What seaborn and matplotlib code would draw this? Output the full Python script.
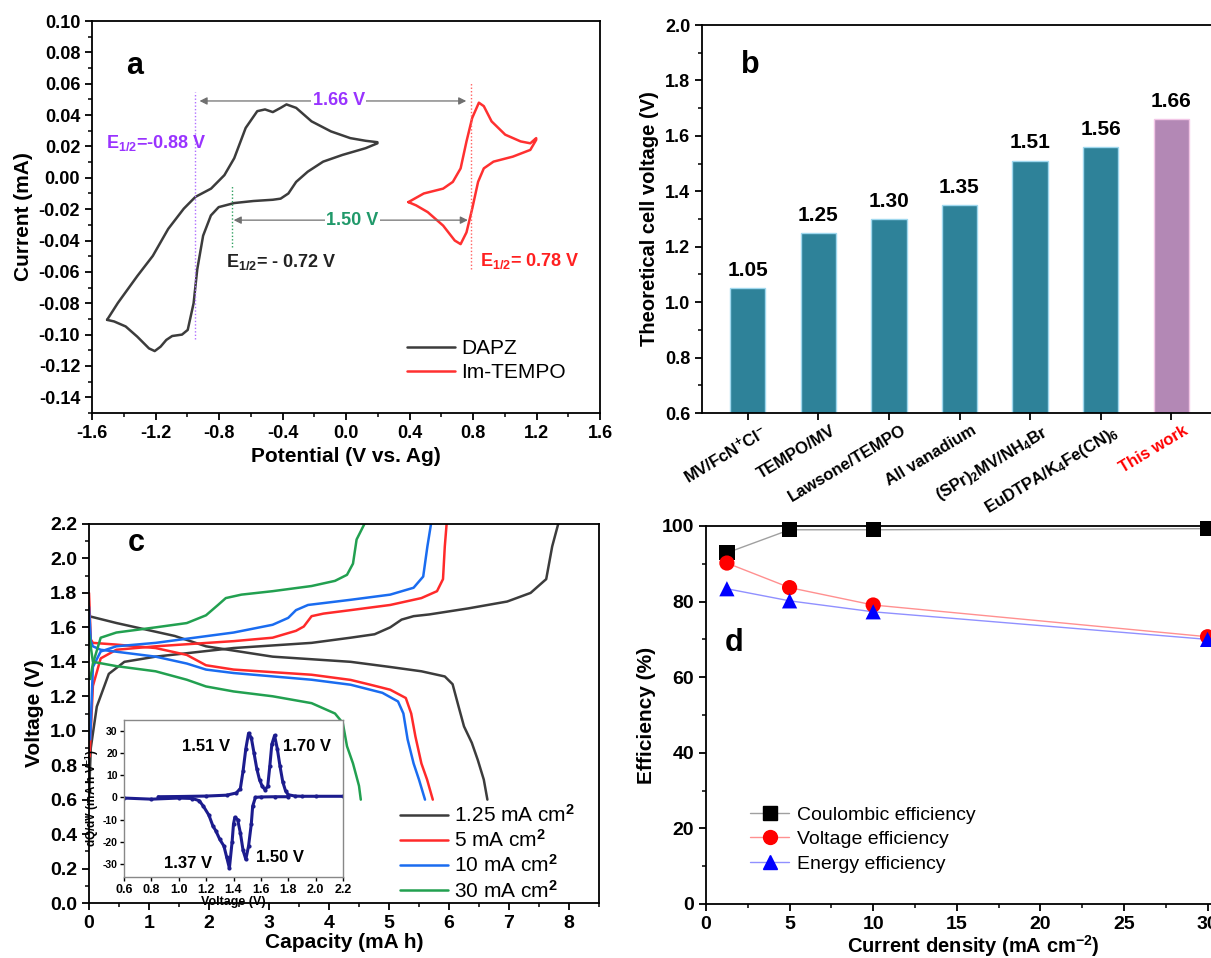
import numpy as np
import pandas as pd
import matplotlib
matplotlib.use('Agg')
import matplotlib.pyplot as plt
import matplotlib.ticker as mticker
import matplotlib.transforms as mtransforms
from matplotlib.lines import Line2D
import seaborn as sns

# ---------------- panel a : cyclic voltammograms ----------------
dapz_v = [-1.505, -1.437, -1.315, -1.217, -1.12, -1.022, -0.949, -0.85, -0.766, -0.704,
          -0.632, -0.559, -0.51, -0.461, -0.412, -0.375, -0.314, -0.217, -0.095, 0.027,
          0.124, 0.198, 0.198, 0.124, -0.022, -0.144, -0.241, -0.314, -0.363, -0.412,
          -0.461, -0.583, -0.704, -0.802, -0.851, -0.9, -0.937, -0.96, -0.997, -1.033,
          -1.095, -1.132, -1.168, -1.205, -1.241, -1.315, -1.388, -1.461, -1.505]
dapz_i = [-0.0906, -0.0798, -0.0627, -0.0498, -0.0326, -0.0197, -0.0122, -0.0069, 0.0017, 0.0125,
          0.0318, 0.0425, 0.0436, 0.0419, 0.0446, 0.0468, 0.0446, 0.036, 0.0296, 0.0253,
          0.0236, 0.0227, 0.022, 0.0189, 0.0146, 0.0103, 0.0039, -0.0026, -0.010, -0.0133,
          -0.014, -0.0148, -0.0161, -0.0187, -0.024, -0.0369, -0.0584, -0.080, -0.097, -0.100,
          -0.1009, -0.1034, -0.1077, -0.1105, -0.1088, -0.1013, -0.0948, -0.0916, -0.0906]
tempo_v = [0.393, 0.49, 0.612, 0.673, 0.722, 0.759, 0.795, 0.837, 0.868, 0.917,
           1.003, 1.1, 1.161, 1.198, 1.198, 1.161, 1.051, 0.929, 0.868, 0.832,
           0.795, 0.759, 0.722, 0.685, 0.612, 0.515, 0.442, 0.393]
tempo_i = [-0.0155, -0.010, -0.0069, -0.0026, 0.006, 0.0232, 0.0382, 0.0479, 0.0457, 0.036,
           0.0275, 0.0232, 0.022, 0.0253, 0.0242, 0.0178, 0.0135, 0.0103, 0.006, -0.0026,
           -0.0197, -0.0348, -0.0423, -0.040, -0.0305, -0.0219, -0.0176, -0.0155]

# ---------------- panel b : theoretical cell voltages ----------------
couples = ['MV/FcN$^{+}$Cl$^{-}$', 'TEMPO/MV', 'Lawsone/TEMPO', 'All vanadium',
           '(SPr)$_{2}$MV/NH$_{4}$Br', 'EuDTPA/K$_{4}$Fe(CN)$_{6}$', 'This work']
cell_v = [1.05, 1.25, 1.30, 1.35, 1.51, 1.56, 1.66]

# ---------------- panel c : charge / discharge curves ----------------
c1_chg_q = [0.0, 0.03, 0.13, 0.33, 0.59, 1.11, 2.41, 3.71, 4.36, 4.76, 5.02, 5.21, 5.41, 5.67, 6.32, 6.97, 7.36, 7.62, 7.72, 7.82]
c1_chg_v = [0.62, 0.9, 1.14, 1.33, 1.40, 1.43, 1.48, 1.51, 1.54, 1.56, 1.60, 1.645, 1.665, 1.675, 1.71, 1.75, 1.80, 1.88, 2.07, 2.2]
c1_dis_q = [0.0, 0.46, 1.43, 1.95, 3.06, 4.36, 5.02, 5.54, 5.93, 6.06, 6.16, 6.25, 6.38, 6.48, 6.58, 6.64]
c1_dis_v = [1.665, 1.625, 1.55, 1.49, 1.43, 1.40, 1.37, 1.345, 1.315, 1.27, 1.14, 1.025, 0.93, 0.83, 0.716, 0.60]

c5_chg_q = [0.01, 0.065, 0.195, 0.456, 1.11, 2.41, 3.06, 3.45, 3.58, 3.71, 3.91, 4.36, 5.02, 5.54, 5.80, 5.90, 5.93, 5.96]
c5_chg_v = [0.85, 1.26, 1.42, 1.47, 1.49, 1.52, 1.54, 1.58, 1.605, 1.665, 1.68, 1.70, 1.73, 1.77, 1.81, 1.88, 2.07, 2.2]
c5_dis_q = [0.0, 0.03, 0.065, 0.456, 1.11, 1.63, 1.95, 2.41, 3.71, 4.36, 4.69, 5.02, 5.28, 5.37, 5.44, 5.54, 5.635, 5.73]
c5_dis_v = [1.80, 1.53, 1.51, 1.50, 1.48, 1.44, 1.38, 1.355, 1.325, 1.295, 1.267, 1.238, 1.19, 1.10, 0.967, 0.81, 0.716, 0.60]

c10_chg_q = [0.02, 0.065, 0.195, 0.456, 1.11, 2.41, 3.06, 3.32, 3.45, 3.65, 4.36, 5.02, 5.41, 5.57, 5.64, 5.70]
c10_chg_v = [0.95, 1.37, 1.46, 1.49, 1.51, 1.57, 1.615, 1.655, 1.70, 1.73, 1.76, 1.79, 1.83, 1.895, 2.07, 2.2]
c10_dis_q = [0.0, 0.03, 0.065, 0.195, 1.11, 1.63, 1.95, 2.41, 3.71, 4.36, 4.89, 5.15, 5.24, 5.31, 5.41, 5.50, 5.60]
c10_dis_v = [1.72, 1.52, 1.49, 1.47, 1.43, 1.39, 1.355, 1.335, 1.296, 1.267, 1.22, 1.17, 1.10, 0.95, 0.81, 0.716, 0.60]

c30_chg_q = [0.02, 0.065, 0.195, 0.456, 1.11, 1.63, 1.95, 2.15, 2.28, 2.54, 3.06, 3.71, 4.10, 4.30, 4.40, 4.46, 4.59]
c30_chg_v = [1.30, 1.39, 1.54, 1.57, 1.60, 1.625, 1.67, 1.73, 1.77, 1.79, 1.81, 1.84, 1.87, 1.905, 1.97, 2.11, 2.2]
c30_dis_q = [0.0, 0.065, 0.456, 1.11, 1.63, 1.95, 2.41, 3.06, 3.71, 4.10, 4.23, 4.30, 4.40, 4.50, 4.53]
c30_dis_v = [1.56, 1.40, 1.375, 1.345, 1.296, 1.257, 1.228, 1.20, 1.16, 1.10, 1.045, 0.91, 0.81, 0.68, 0.60]

rate_labels = ['1.25 mA cm$^{2}$', '5 mA cm$^{2}$', '10 mA cm$^{2}$', '30 mA cm$^{2}$']

# inset dQ/dV
dq_chg_v = [0.85, 1.0, 1.2, 1.35, 1.42, 1.45, 1.47, 1.49, 1.51, 1.53, 1.55, 1.57, 1.59, 1.61, 1.63,
            1.65, 1.665, 1.68, 1.70, 1.72, 1.74, 1.76, 1.78, 1.80, 1.85, 1.9, 2.0, 2.2]
dq_chg = [0.3, 0.4, 0.6, 1.0, 2.0, 4, 12, 22, 29, 27, 20, 13, 8, 5, 3.5,
          5, 14, 24, 28, 22, 14, 7, 3, 1.2, 0.6, 0.5, 0.5, 0.5]
dq_dis_v = [1.8, 1.7, 1.6, 1.56, 1.54, 1.53, 1.51, 1.49, 1.47, 1.45, 1.43, 1.41, 1.40, 1.39, 1.37,
            1.35, 1.33, 1.30, 1.27, 1.25, 1.22, 1.18, 1.15, 1.1, 1.0, 0.8, 0.6]
dq_dis = [0.3, 0.3, 0.2, 0, -4, -12, -22, -28, -24, -16, -10, -9, -12, -20, -32,
          -27, -22, -19, -15, -13, -8, -4, -1.5, -0.5, -0.3, -0.8, -0.3]

# ---------------- panel d : efficiencies ----------------
cur_density = [1.25, 5, 10, 30]
coulombic = [92.9, 99.0, 99.0, 99.3]
voltage_eff = [90.2, 83.7, 79.1, 70.7]
energy_eff = [83.4, 80.2, 77.3, 70.0]

# ---------------- style ----------------
sns.set_theme(style='ticks')
plt.rcParams.update({
    'font.family': ['Liberation Sans', 'DejaVu Sans'],
    'font.weight': 'bold',
    'axes.labelweight': 'bold',
    'axes.edgecolor': 'black',
    'axes.linewidth': 1.3,
    'axes.labelcolor': 'black',
    'axes.unicode_minus': False,
    'text.color': 'black',
    'xtick.color': 'black', 'ytick.color': 'black',
    'xtick.direction': 'out', 'ytick.direction': 'out',
    'xtick.major.size': 5, 'ytick.major.size': 5,
    'xtick.minor.size': 3, 'ytick.minor.size': 3,
    'xtick.major.width': 1.3, 'ytick.major.width': 1.3,
    'xtick.minor.width': 1.1, 'ytick.minor.width': 1.1,
    'mathtext.fontset': 'custom',
    'mathtext.rm': 'Liberation Sans',
    'mathtext.bf': 'Liberation Sans:bold',
    'mathtext.default': 'bf',
    'legend.frameon': False,
})


def style_ax(ax, xmaj, xmin, ymaj, ymin, fs):
    ax.xaxis.set_major_locator(mticker.MultipleLocator(xmaj))
    ax.xaxis.set_minor_locator(mticker.MultipleLocator(xmin))
    ax.yaxis.set_major_locator(mticker.MultipleLocator(ymaj))
    ax.yaxis.set_minor_locator(mticker.MultipleLocator(ymin))
    ax.tick_params(labelsize=fs, which='both')
    for s in ax.spines.values():
        s.set_visible(True)
        s.set_color('black')
        s.set_linewidth(1.3)


W, H = 1211, 958
fig = plt.figure(figsize=(W / 100, H / 100), dpi=100)


def px_axes(l, r, t, b):
    return fig.add_axes([l / W, 1 - b / H, (r - l) / W, (b - t) / H])


# ================= panel a =================
axa = px_axes(92, 600, 21, 413)
sns.lineplot(x=dapz_v, y=dapz_i, sort=False, estimator=None, color='#3c3c3c', lw=1.8, ax=axa)
sns.lineplot(x=tempo_v, y=tempo_i, sort=False, estimator=None, color='#ff3030', lw=1.8, ax=axa)
axa.set_xlim(-1.6, 1.6)
axa.set_ylim(-0.15, 0.10)
style_ax(axa, 0.4, 0.2, 0.02, 0.01, 13)
axa.xaxis.set_major_formatter(mticker.FormatStrFormatter('%.1f'))
axa.yaxis.set_major_formatter(mticker.FormatStrFormatter('%.2f'))
axa.set_xlabel('Potential (V vs. Ag)', fontsize=15)
axa.set_ylabel('Current (mA)', fontsize=15)

axa.plot([-0.95, -0.95], [-0.103, 0.055], ls=(0, (1, 1.5)), color='#b070ff', lw=1)
axa.plot([0.785, 0.785], [-0.058, 0.061], ls=(0, (1, 1.5)), color='#ff6060', lw=1)
axa.plot([-0.72, -0.72], [-0.044, -0.005], ls=(0, (1, 1.5)), color='#30a060', lw=1)
axa.annotate('', xy=(-0.94, 0.049), xytext=(0.775, 0.049),
             arrowprops=dict(arrowstyle='<|-|>', color='#707070', lw=0.9, mutation_scale=11))
axa.annotate('', xy=(-0.725, -0.027), xytext=(0.785, -0.027),
             arrowprops=dict(arrowstyle='<|-|>', color='#707070', lw=0.9, mutation_scale=11))
axa.text(-0.045, 0.049, '1.66 V', color='#9933ff', fontsize=13, ha='center', va='center',
         bbox=dict(fc='white', ec='none', pad=1))
axa.text(0.04, -0.027, '1.50 V', color='#20996a', fontsize=13, ha='center', va='center',
         bbox=dict(fc='white', ec='none', pad=1))
axa.text(-1.51, 0.022, 'E$_{1/2}$=-0.88 V', color='#9933ff', fontsize=13, va='center')
axa.text(-0.755, -0.054, 'E$_{1/2}$= - 0.72 V', color='#222222', fontsize=13, va='center')
axa.text(0.845, -0.053, 'E$_{1/2}$= 0.78 V', color='#ff2020', fontsize=13, va='center')
axa.text(-1.33, 0.0715, 'a', fontsize=22, ha='center', va='center')
axa.legend(handles=[Line2D([], [], color='#3c3c3c', lw=1.8), Line2D([], [], color='#ff3030', lw=1.8)],
           labels=['DAPZ', 'Im-TEMPO'], loc='lower right', bbox_to_anchor=(0.97, 0.03),
           handlelength=2.3, handletextpad=0.3, labelspacing=0.25,
           prop={'weight': 'normal', 'size': 15})

# ================= panel b =================
axb = px_axes(702, 1217, 25, 413)
df_b = pd.DataFrame({'couple': couples, 'v': cell_v})
bar_cols = ['#2e8299'] * 6 + ['#b388b5']
sns.barplot(data=df_b, x='couple', y='v', hue='couple', palette=bar_cols, legend=False,
            width=0.5, saturation=1, ax=axb)
edge_cols = ['#9fd8ee'] * 6 + ['#f2c6e6']
for p, ec in zip(axb.patches, edge_cols):
    p.set_edgecolor(ec)
    p.set_linewidth(1)
axb.set_xlim(-0.65, 6.65)
axb.set_ylim(0.6, 2.0)
style_ax(axb, 1, 1, 0.2, 0.1, 13)
axb.xaxis.set_major_locator(mticker.FixedLocator(range(7)))
axb.xaxis.set_minor_locator(mticker.NullLocator())
axb.yaxis.set_major_formatter(mticker.FormatStrFormatter('%.1f'))
axb.set_xticks(range(7))
axb.set_xticklabels(couples, rotation=31, ha='right', va='top', rotation_mode='anchor', fontsize=12)
shift = mtransforms.ScaledTranslation(0.12, 0.02, fig.dpi_scale_trans)
for lab in axb.get_xticklabels():
    lab.set_transform(lab.get_transform() + shift)
axb.get_xticklabels()[-1].set_color('red')
axb.set_xlabel('')
axb.set_ylabel('Theoretical cell voltage (V)', fontsize=14.5)
for i, v in enumerate(cell_v):
    axb.annotate(f'{v:.2f}', (i, v), xytext=(0, 6), textcoords='offset points',
                 ha='center', va='bottom', fontsize=15)
axb.text(0.03, 1.856, 'b', fontsize=22, ha='center', va='center')

# ================= panel c =================
axc = px_axes(89, 599, 524, 903)
c_cols = ['#3c3c3c', '#ff2a2a', '#1a6cf0', '#22a050']
curves = [(c1_chg_q, c1_chg_v, c1_dis_q, c1_dis_v), (c5_chg_q, c5_chg_v, c5_dis_q, c5_dis_v),
          (c10_chg_q, c10_chg_v, c10_dis_q, c10_dis_v), (c30_chg_q, c30_chg_v, c30_dis_q, c30_dis_v)]
for (cq, cv, dq, dv), col in zip(curves, c_cols):
    sns.lineplot(x=cq, y=cv, sort=False, estimator=None, color=col, lw=1.8, ax=axc)
    sns.lineplot(x=dq, y=dv, sort=False, estimator=None, color=col, lw=1.8, ax=axc)
axc.set_xlim(0, 8.5)
axc.set_ylim(0, 2.2)
style_ax(axc, 1, 0.5, 0.2, 0.1, 14)
axc.yaxis.set_major_formatter(mticker.FormatStrFormatter('%.1f'))
axc.set_xlabel('Capacity (mA h)', fontsize=15, labelpad=1)
axc.set_ylabel('Voltage (V)', fontsize=15)
axc.text(0.78, 2.09, 'c', fontsize=22, ha='center', va='center')
axc.legend(handles=[Line2D([], [], color=c, lw=1.8) for c in c_cols], labels=rate_labels,
           loc='lower right', bbox_to_anchor=(0.99, -0.045), handlelength=2.3, handletextpad=0.3,
           labelspacing=0.15, prop={'weight': 'normal', 'size': 15})

axi = px_axes(124, 343, 720, 877)
sns.lineplot(x=dq_chg_v, y=dq_chg, sort=False, estimator=None, color='#1c1c8e', lw=2.2,
             marker='o', markersize=3, markeredgewidth=0, ax=axi)
sns.lineplot(x=dq_dis_v, y=dq_dis, sort=False, estimator=None, color='#1c1c8e', lw=2.2,
             marker='o', markersize=3, markeredgewidth=0, ax=axi)
axi.set_xlim(0.6, 2.2)
axi.set_ylim(-36, 35)
style_ax(axi, 0.2, 0.1, 10, 5, 9)
axi.xaxis.set_major_formatter(mticker.FormatStrFormatter('%.1f'))
axi.xaxis.set_minor_locator(mticker.NullLocator())
axi.yaxis.set_minor_locator(mticker.NullLocator())
axi.tick_params(length=3, width=1, pad=2)
axi.tick_params(axis='y', labelsize=7.5, pad=1.5)
for s in axi.spines.values():
    s.set_linewidth(1)
    s.set_color('#888888')
axi.set_xlabel('Voltage (V)', fontsize=9, labelpad=0)
axi.set_ylabel('dQ/dV (mA h V$^{-1}$)', fontsize=8.5)
axi.yaxis.set_label_coords(-0.105, 0.5)
axi.text(1.2, 23, '1.51 V', fontsize=12, ha='center', va='center')
axi.text(1.94, 23, '1.70 V', fontsize=12, ha='center', va='center')
axi.text(1.07, -30, '1.37 V', fontsize=12, ha='center', va='center')
axi.text(1.74, -27, '1.50 V', fontsize=12, ha='center', va='center')

# ================= panel d =================
axd = px_axes(706, 1241, 526, 904)
df_d = pd.DataFrame({'j': cur_density * 3,
                     'eff': coulombic + voltage_eff + energy_eff,
                     'kind': ['Coulombic efficiency'] * 4 + ['Voltage efficiency'] * 4 + ['Energy efficiency'] * 4})
kinds = ['Coulombic efficiency', 'Voltage efficiency', 'Energy efficiency']
line_cols = ['#a0a0a0', '#ff9090', '#9090ff']
mark_cols = ['black', '#ff0000', '#0000ff']
marks = ['s', 'o', '^']
sns.lineplot(data=df_d, x='j', y='eff', hue='kind', palette=dict(zip(kinds, line_cols)),
             lw=1, legend=False, ax=axd)
sns.scatterplot(data=df_d, x='j', y='eff', hue='kind', style='kind',
                palette=dict(zip(kinds, mark_cols)), markers=dict(zip(kinds, marks)),
                s=120, linewidth=0, legend=False, ax=axd, zorder=3, clip_on=False)
axd.set_xlim(0, 32)
axd.set_ylim(0, 100)
style_ax(axd, 5, 2.5, 20, 10, 14)
axd.set_xlabel('Current density (mA cm$^{-2}$)', fontsize=14.5, labelpad=0)
axd.set_ylabel('Efficiency (%)', fontsize=15)
axd.text(1.7, 69, 'd', fontsize=22, ha='center', va='center')
axd.legend(handles=[Line2D([], [], color=lc, lw=1, marker=m, markersize=10, markerfacecolor=mc,
                           markeredgecolor=mc) for lc, mc, m in zip(line_cols, mark_cols, marks)],
           labels=kinds, loc='lower left', bbox_to_anchor=(0.05, 0.037), handlelength=2.0,
           handletextpad=0.4, labelspacing=0.35, prop={'weight': 'normal', 'size': 14})

fig.savefig('out.png', dpi=100)
